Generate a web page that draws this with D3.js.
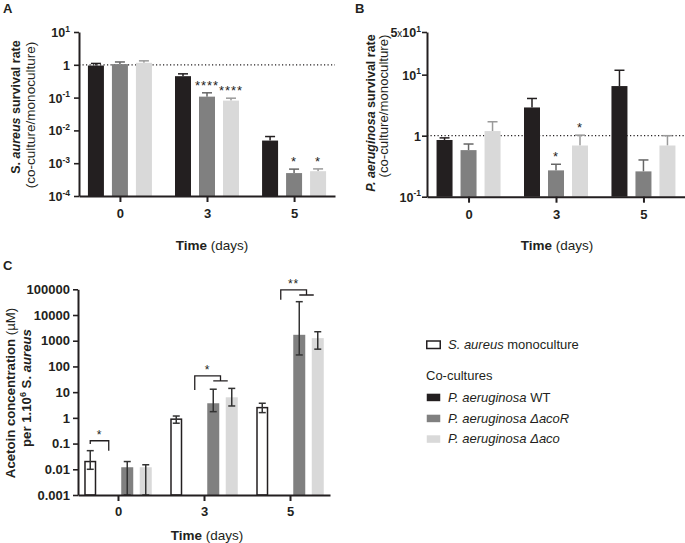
<!DOCTYPE html>
<html><head><meta charset="utf-8">
<script src="https://cdn.jsdelivr.net/npm/d3@7"></script>
<style>
body{margin:0;background:#fff}
svg text{font-family:"Liberation Sans",Arial,Helvetica,sans-serif;fill:#231f20}
</style>
</head><body>
<svg id="chart" width="685" height="543"></svg>
<script>
// ---------- DATA ----------
const days = ["0", "3", "5"];
const seriesAB = ["WT", "acoR", "aco"];
const seriesC = ["mono", "WT", "acoR", "aco"];

// Panel A : S. aureus survival rate
const aWT     = [0.95, 0.45, 0.0049];
const aWTerr  = [1.10, 0.53, 0.0065];
const aAcoR   = [1.05, 0.107, 0.0005];
const aAcoRerr= [1.22, 0.14, 0.00066];
const aAco    = [1.15, 0.081, 0.00057];
const aAcoerr = [1.32, 0.096, 0.00067];
const aStarsAcoR = ["", "****", "*"];
const aStarsAco  = ["", "****", "*"];
const aTicks = [10, 1, 0.1, 0.01, 0.001, 0.0001];
const aTickLabels = [["","10","1"],["","1",""],["","10","-1"],["","10","-2"],["","10","-3"],["","10","-4"]];

// Panel B : P. aeruginosa survival rate
const bWT     = [0.85, 2.9, 6.5];
const bWTerr  = [0.92, 4.07, 11.8];
const bAcoR   = [0.58, 0.27, 0.26];
const bAcoRerr= [0.73, 0.34, 0.40];
const bAco    = [1.19, 0.69, 0.69];
const bAcoerr = [1.69, 1.02, 1.00];
const bStarsAcoR = ["", "*", ""];
const bStarsAco  = ["", "*", ""];
const bTicks = [50, 10, 1, 0.1];
const bTickLabels = [["5","10","1"],["","10","1"],["","1",""],["","10","-1"]];

// Panel C : Acetoin concentration
const cMono    = [0.02, 0.89, 2.5];
const cMonoLo  = [0.01, 0.62, 1.6];
const cMonoHi  = [0.053, 1.18, 3.7];
const cAcoR    = [0.012, 3.7, 1700];
const cAcoRLo  = [0.001, 1.74, 280];
const cAcoRHi  = [0.02, 13, 33000];
const cAco     = [0.012, 6.3, 1260];
const cAcoLo   = [0.001, 2.9, 470];
const cAcoHi   = [0.015, 14, 2240];
const cTicks = [100000, 10000, 1000, 100, 10, 1, 0.1, 0.01, 0.001];
const cTickLabels = ["100000","10000","1000","100","10","1","0.1","0.01","0.001"];
const cBrackets = [
  {day:"0", from:"mono", to:["WT"], top:0.129, leftEnd:0.096, rightEnd:0.053, label:"*"},
  {day:"3", from:"WT", to:["acoR","aco"], top:43, leftEnd:12.2, rightEnd:27.3, label:"*"},
  {day:"5", from:"WT", to:["acoR","aco"], top:95000, leftEnd:39000, rightEnd:60000, label:"**"}
];

// Legend
const legendParts = [
  [["S. aureus", true], [" monoculture", false]],
  [["P. aeruginosa", true], [" WT", false]],
  [["P. aeruginosa \u0394acoR", true]],
  [["P. aeruginosa \u0394aco", true]]
];
const legendKeys = ["mono", "WT", "acoR", "aco"];

// ---------- STYLE ----------
const INK = "#231f20";
const fillColor = {mono:"#ffffff", WT:"#231f20", acoR:"#808080", aco:"#d9d9d9"};
const errColor  = {WT:"#231f20", acoR:"#666666", aco:"#9a9a9a"};

const svg = d3.select("#chart");

function supText(sel, mult, base, exp, fs) {
  if (mult) {
    sel.append("tspan").text(mult);
    sel.append("tspan").attr("font-weight", "normal").attr("font-size", fs * 0.8).text("x");
  }
  sel.append("tspan").text(base);
  if (exp) sel.append("tspan").attr("font-size", fs * 0.68).attr("dy", -fs * 0.42).text(exp);
}

// ---------- survival panels (A, B) ----------
function survivalPanel(o) {
  const g = svg.append("g");
  const x = d3.scalePoint().domain(days).range(o.xRange).padding(o.pad);
  const inner = d3.scaleBand().domain(seriesAB).range([-36, 36]).paddingInner(1/3).paddingOuter(1/6);
  const y = d3.scaleLog().domain(o.yDomain).range(o.yRange);
  const base = o.yRange[0];

  g.append("line").attr("x1", o.xRange[0]).attr("x2", o.xRange[1])
    .attr("y1", y(1)).attr("y2", y(1))
    .attr("stroke", INK).attr("stroke-width", 1.3).attr("stroke-dasharray", "1.2,2.3");

  const rows = [];
  seriesAB.forEach(s => days.forEach((d, i) => rows.push({
    s, d, v: o.vals[s][i], e: o.errs[s][i], star: (o.stars[s] || [])[i] || ""
  })));

  const eb = g.selectAll("g.eb").data(rows).join("g").attr("class", "eb");
  eb.append("line")
    .attr("x1", r => x(r.d) + inner(r.s) + inner.bandwidth()/2)
    .attr("x2", r => x(r.d) + inner(r.s) + inner.bandwidth()/2)
    .attr("y1", r => y(r.v)).attr("y2", r => y(r.e))
    .attr("stroke", r => errColor[r.s]).attr("stroke-width", 1.5);
  eb.append("line")
    .attr("x1", r => x(r.d) + inner(r.s) + inner.bandwidth()/2 - 5)
    .attr("x2", r => x(r.d) + inner(r.s) + inner.bandwidth()/2 + 5)
    .attr("y1", r => y(r.e)).attr("y2", r => y(r.e))
    .attr("stroke", r => errColor[r.s]).attr("stroke-width", 1.5);

  g.selectAll("rect.bar").data(rows).join("rect").attr("class", "bar")
    .attr("x", r => x(r.d) + inner(r.s))
    .attr("width", inner.bandwidth())
    .attr("y", r => y(r.v))
    .attr("height", r => base - y(r.v))
    .attr("fill", r => fillColor[r.s]);

  g.selectAll("text.star").data(rows.filter(r => r.star)).join("text").attr("class", "star")
    .attr("x", r => x(r.d) + inner(r.s) + inner.bandwidth()/2)
    .attr("y", r => y(r.e) - 3)
    .attr("text-anchor", "middle").attr("font-size", 13).attr("letter-spacing", 1)
    .text(r => r.star);

  const ya = g.append("g").attr("transform", `translate(${o.xRange[0]},0)`)
    .call(d3.axisLeft(y).tickValues(o.ticks).tickSize(5).tickSizeOuter(0).tickFormat(() => ""));
  ya.select(".domain").attr("stroke", INK).attr("stroke-width", 2);
  ya.selectAll(".tick line").attr("stroke", INK).attr("stroke-width", 1.6);
  ya.selectAll(".tick").each(function(dv, i) {
    const t = d3.select(this).append("text").attr("x", o.labelX).attr("dy", "0.36em")
      .attr("text-anchor", "end").attr("font-size", 12.5).attr("font-weight", "bold");
    const L = o.tickLabels[i];
    supText(t, L[0], L[1], L[2], 12.5);
  });

  const xa = g.append("g").attr("transform", `translate(0,${base})`)
    .call(d3.axisBottom(x).tickSize(6).tickSizeOuter(0).tickPadding(7));
  xa.select(".domain").attr("stroke", INK).attr("stroke-width", 2);
  xa.selectAll(".tick line").attr("stroke", INK).attr("stroke-width", 2);
  xa.selectAll(".tick text").attr("font-size", 13).attr("font-weight", "bold")
    .attr("fill", INK).attr("font-family", "Liberation Sans, Arial, sans-serif");

  const xt = g.append("text").attr("x", o.xTitle[0]).attr("y", o.xTitle[1])
    .attr("text-anchor", "middle").attr("font-size", 13.5);
  xt.append("tspan").attr("font-weight", "bold").text("Time");
  xt.append("tspan").text(" (days)");

  const t1 = g.append("text").attr("transform", `translate(${o.yTitle1[0]},${o.yTitle1[1]}) rotate(-90)`)
    .attr("text-anchor", "middle").attr("font-size", 12.5).attr("font-weight", "bold");
  t1.append("tspan").text(o.species[0]);
  t1.append("tspan").attr("font-style", "italic").text(o.species[1]);
  t1.append("tspan").text(" survival rate");
  g.append("text").attr("transform", `translate(${o.yTitle2[0]},${o.yTitle2[1]}) rotate(-90)`)
    .attr("text-anchor", "middle").attr("font-size", o.title2Size)
    .text("(co-culture/monoculture)");

  g.append("text").attr("x", o.letter[0]).attr("y", o.letter[1])
    .attr("font-size", 13).attr("font-weight", "bold").text(o.letterText);
}

survivalPanel({
  xRange: [79, 335], pad: 0.47, yDomain: [0.0001, 10], yRange: [196, 32],
  vals: {WT: aWT, acoR: aAcoR, aco: aAco},
  errs: {WT: aWTerr, acoR: aAcoRerr, aco: aAcoerr},
  stars: {acoR: aStarsAcoR, aco: aStarsAco},
  ticks: aTicks, tickLabels: aTickLabels, labelX: -9,
  xTitle: [212, 250], yTitle1: [20, 107], yTitle2: [35, 115], title2Size: 13.5,
  species: ["S. ", "aureus"], letter: [3, 13], letterText: "A"
});

survivalPanel({
  xRange: [427, 685], pad: 0.475, yDomain: [0.1, 50], yRange: [196.7, 32],
  vals: {WT: bWT, acoR: bAcoR, aco: bAco},
  errs: {WT: bWTerr, acoR: bAcoRerr, aco: bAcoerr},
  stars: {acoR: bStarsAcoR, aco: bStarsAco},
  ticks: bTicks, tickLabels: bTickLabels, labelX: -6,
  xTitle: [557, 250], yTitle1: [375, 113], yTitle2: [388, 106], title2Size: 13.2,
  species: ["", "P. aeruginosa"], letter: [355, 13], letterText: "B"
});

// ---------- panel C ----------
(function() {
  const g = svg.append("g");
  const xR = [78, 330];
  const x = d3.scalePoint().domain(days).range(xR).padding(0.465);
  const inner = d3.scaleBand().domain(seriesC).range([-37, 37]).paddingInner(0.351).paddingOuter(0.1755);
  const y = d3.scaleLog().domain([0.001, 100000]).range([495, 289.3]);
  const base = 495;
  const cx = (d, s) => x(d) + inner(s) + inner.bandwidth()/2;

  const vals = {mono: cMono, acoR: cAcoR, aco: cAco};
  const los = {mono: cMonoLo, acoR: cAcoRLo, aco: cAcoLo};
  const his = {mono: cMonoHi, acoR: cAcoRHi, aco: cAcoHi};
  const rows = [];
  ["mono", "acoR", "aco"].forEach(s => days.forEach((d, i) => rows.push({
    s, d, v: vals[s][i], lo: los[s][i], hi: his[s][i]
  })));

  g.selectAll("rect.bar").data(rows).join("rect").attr("class", "bar")
    .attr("x", r => x(r.d) + inner(r.s) + (r.s === "mono" ? 0.75 : 0))
    .attr("width", r => inner.bandwidth() - (r.s === "mono" ? 1.5 : 0))
    .attr("y", r => y(r.v))
    .attr("height", r => base - y(r.v))
    .attr("fill", r => fillColor[r.s])
    .attr("stroke", r => r.s === "mono" ? INK : "none")
    .attr("stroke-width", 1.5);

  const eb = g.selectAll("g.eb").data(rows).join("g").attr("class", "eb")
    .attr("stroke", "#333333").attr("stroke-width", 1.5);
  eb.append("line").attr("x1", r => cx(r.d, r.s)).attr("x2", r => cx(r.d, r.s))
    .attr("y1", r => y(r.lo)).attr("y2", r => y(r.hi));
  eb.append("line").attr("x1", r => cx(r.d, r.s) - 3.5).attr("x2", r => cx(r.d, r.s) + 3.5)
    .attr("y1", r => y(r.hi)).attr("y2", r => y(r.hi));
  eb.append("line").attr("x1", r => cx(r.d, r.s) - 3.5).attr("x2", r => cx(r.d, r.s) + 3.5)
    .attr("y1", r => y(r.lo)).attr("y2", r => y(r.lo));

  cBrackets.forEach(b => {
    const xl = cx(b.day, b.from);
    let xr, path;
    if (b.to.length === 1) {
      xr = cx(b.day, b.to[0]);
      path = `M${xl},${y(b.leftEnd)}V${y(b.top)}H${xr}V${y(b.rightEnd)}`;
    } else {
      const a = cx(b.day, b.to[0]), c = cx(b.day, b.to[1]) - 4;
      xr = (a + c) / 2;
      path = `M${xl},${y(b.leftEnd)}V${y(b.top)}H${xr}V${y(b.rightEnd)}M${a},${y(b.rightEnd)}H${c}`;
    }
    g.append("path").attr("d", path).attr("fill", "none").attr("stroke", INK).attr("stroke-width", 1.3);
    g.append("text").attr("x", (xl + xr) / 2).attr("y", y(b.top) - 1.5)
      .attr("text-anchor", "middle").attr("font-size", 12).attr("letter-spacing", 1).text(b.label);
  });

  const ya = g.append("g").attr("transform", `translate(${xR[0]},0)`)
    .call(d3.axisLeft(y).tickValues(cTicks).tickSize(5).tickSizeOuter(0).tickPadding(3)
      .tickFormat((dv, i) => cTickLabels[i]));
  ya.select(".domain").attr("stroke", INK).attr("stroke-width", 2);
  ya.selectAll(".tick line").attr("stroke", INK).attr("stroke-width", 1.6);
  ya.selectAll(".tick text").attr("font-size", 13).attr("font-weight", "bold").attr("fill", INK)
    .attr("font-family", "Liberation Sans, Arial, sans-serif");

  const xa = g.append("g").attr("transform", `translate(0,${base})`)
    .call(d3.axisBottom(x).tickSize(6).tickSizeOuter(0).tickPadding(6));
  xa.select(".domain").attr("stroke", INK).attr("stroke-width", 2);
  xa.selectAll(".tick line").attr("stroke", INK).attr("stroke-width", 2);
  xa.selectAll(".tick text").attr("font-size", 13).attr("font-weight", "bold")
    .attr("fill", INK).attr("font-family", "Liberation Sans, Arial, sans-serif");

  const xt = g.append("text").attr("x", 207).attr("y", 540).attr("text-anchor", "middle").attr("font-size", 13.5);
  xt.append("tspan").attr("font-weight", "bold").text("Time");
  xt.append("tspan").text(" (days)");

  const t1 = g.append("text").attr("transform", "translate(15,393) rotate(-90)")
    .attr("text-anchor", "middle").attr("font-size", 13.2);
  t1.append("tspan").attr("font-weight", "bold").text("Acetoin concentration ");
  t1.append("tspan").text("(\u00b5M)");
  const t2 = g.append("text").attr("transform", "translate(31,388) rotate(-90)")
    .attr("text-anchor", "middle").attr("font-size", 13.2).attr("font-weight", "bold");
  t2.append("tspan").text("per 1.10");
  t2.append("tspan").attr("font-size", 9).attr("dy", -5).text("6");
  t2.append("tspan").attr("dy", 5).text(" S. ");
  t2.append("tspan").attr("font-style", "italic").text("aureus");

  g.append("text").attr("x", 3).attr("y", 270).attr("font-size", 13).attr("font-weight", "bold").text("C");
})();

// ---------- legend ----------
(function() {
  const g = svg.append("g");
  const baseY = {mono: 349, head: 380, WT: 401.7, acoR: 422.7, aco: 443.3};
  legendKeys.forEach((k, i) => {
    g.append("rect").attr("x", 426.75).attr("y", baseY[k] - 8).attr("width", 13.5).attr("height", 7.5)
      .attr("fill", fillColor[k]).attr("stroke", k === "mono" ? INK : "none").attr("stroke-width", 1.5);
    const t = g.append("text").attr("x", 448).attr("y", baseY[k]).attr("font-size", 13);
    legendParts[i].forEach(p => t.append("tspan").attr("font-style", p[1] ? "italic" : "normal").text(p[0]));
  });
  g.append("text").attr("x", 426).attr("y", baseY.head).attr("font-size", 13).text("Co-cultures");
})();
</script>
</body></html>
